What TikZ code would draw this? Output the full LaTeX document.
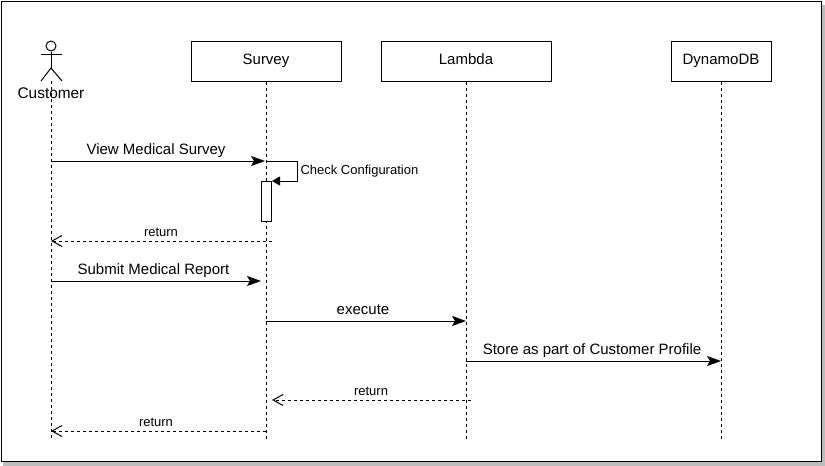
\documentclass[tikz,border=0pt]{standalone}
\usepackage{fontspec}
\setmainfont{Liberation Sans}
\usepackage{tikz}
\usetikzlibrary{arrows.meta}
\definecolor{shadowgray}{HTML}{BDBDBD}
\tikzset{
    box/.style={draw,fill=white,minimum width=#1,minimum height=40pt,inner sep=0pt,font=\fontsize{15}{17}\selectfont},
    life/.style={dashed,dash pattern=on 3pt off 3pt},
    msg/.style={-{Stealth[length=14pt,width=10pt,inset=3pt]}},
    selfmsg/.style={-{Triangle[length=8pt,width=9pt]}},
    back/.style={dashed,dash pattern=on 3pt off 3pt,-{Straight Barb[length=10pt,width=11pt]}},
    label/.style={inner sep=0pt,anchor=base,font=\fontsize{15}{17}\selectfont},
    small/.style={inner sep=0pt,anchor=base,font=\fontsize{13}{15}\selectfont}
}
\begin{document}
\begin{tikzpicture}[x=1pt,y=-1pt,line width=1pt]
    \useasboundingbox (0,0) rectangle (825,466);
    \fill [shadowgray] (3,5) rectangle (825,466);
    \draw [fill=white] (1,1) rectangle (821,461);

    % boxes
    \node [box=150pt] (survey) at (266,61) {\raisebox{4pt}{Survey}};
    \node [box=170pt] (lambda) at (466,61) {\raisebox{4pt}{Lambda}};
    \node [box=100pt] (dynamo) at (721,61) {\raisebox{4pt}{DynamoDB}};

    % actor
    \node [draw,circle,minimum size=10pt,inner sep=0pt] (head) at (51,46) {};
    \coordinate (hip) at (51,68);
    \coordinate (armL) at (41,54);
    \coordinate (armR) at (62,54);
    \coordinate (legL) at (41,81);
    \coordinate (legR) at (62,81);
    \draw (head) -- (hip);
    \draw (armL) -- (armR);
    \draw (legL) -- (hip) -- (legR);
    \coordinate (customer) at (51,81);

    % lifelines
    \coordinate (customerend) at (51,439);
    \coordinate (surveyend) at (266,439);
    \coordinate (lambdaend) at (466,439);
    \coordinate (dynamoend) at (721,439);
    \draw [life] (customer) -- (customerend);
    \draw [life] (survey) -- (surveyend);
    \draw [life] (lambda) -- (lambdaend);
    \draw [life] (dynamo) -- (dynamoend);
    \node [label,font=\fontsize{15.4}{17}\selectfont] (customertext) at (51,98) {Customer};

    % anchors on the lifelines
    \coordinate (c1) at (51,161);
    \coordinate (s1) at (265,161);
    \coordinate (s1b) at (266,161);
    \coordinate (s2) at (297,161);
    \coordinate (s3) at (297,181);
    \coordinate (s4) at (272,181);
    \coordinate (s5) at (272,241);
    \coordinate (c2) at (51,241);
    \coordinate (c3) at (51,281);
    \coordinate (s6) at (261,281);
    \coordinate (s7) at (266,321);
    \coordinate (l1) at (466,321);
    \coordinate (l2) at (466,361);
    \coordinate (d1) at (721,361);
    \coordinate (l3) at (471,400);
    \coordinate (s8) at (272,400);
    \coordinate (s9) at (266,431);
    \coordinate (c4) at (51,431);

    % activation
    \node [draw,fill=white,minimum width=10pt,minimum height=40pt,inner sep=0pt] (activation) at (266.5,201) {};

    % messages
    \draw [msg] (c1) -- (s1);
    \draw [selfmsg] (s1b) -- (s2) -- (s3) -- (s4);
    \draw [back] (s5) -- (c2);
    \draw [msg] (c3) -- (s6);
    \draw [msg] (s7) -- (l1);
    \draw [msg] (l2) -- (d1);
    \draw [back] (l3) -- (s8);
    \draw [back] (s9) -- (c4);

    % labels
    \node [label] (viewtext) at (156,154) {View Medical Survey};
    \node [small,anchor=base west] (checktext) at (300,174) {Check Configuration};
    \node [small] (return1) at (161,236) {return};
    \node [label] (submittext) at (153.5,274) {Submit Medical Report};
    \node [label] (executetext) at (363,314) {execute};
    \node [label] (storetext) at (592,354) {Store as part of Customer Profile};
    \node [small] (return2) at (371,395) {return};
    \node [small] (return3) at (156,426) {return};
\end{tikzpicture}
\end{document}
